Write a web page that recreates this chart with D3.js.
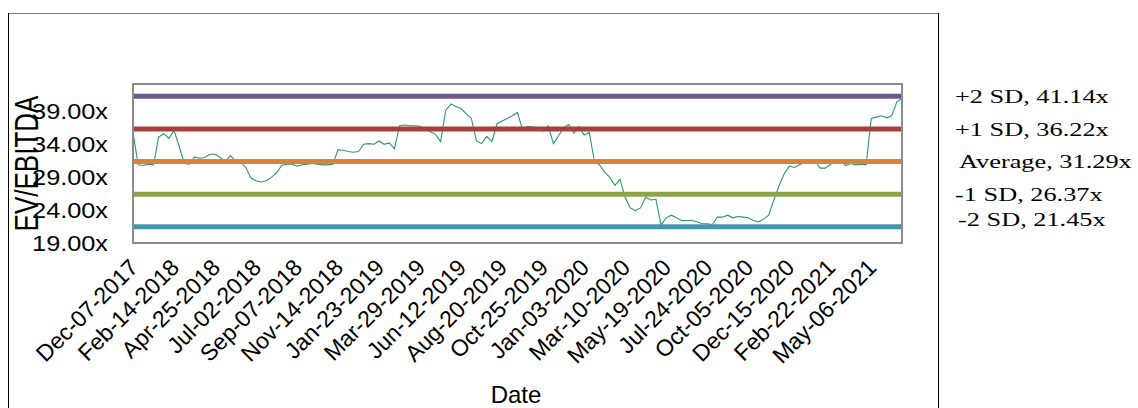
<!DOCTYPE html>
<html><head><meta charset="utf-8">
<script src="https://cdn.jsdelivr.net/npm/d3@7"></script>
<style>body{margin:0;background:#fff}svg{display:block}</style>
</head><body>
<svg id="c" width="1138" height="408"></svg>
<script>
// ---------- data ----------
const totalCategories = 901;      // trading days on the category axis
const sampleStep = 6;             // one reading every 6 categories
const labelStep = 48;             // a date label every 48 categories
const dateLabels = ["Dec-07-2017","Feb-14-2018","Apr-25-2018","Jul-02-2018","Sep-07-2018","Nov-14-2018",
  "Jan-23-2019","Mar-29-2019","Jun-12-2019","Aug-20-2019","Oct-25-2019","Jan-03-2020","Mar-10-2020",
  "May-19-2020","Jul-24-2020","Oct-05-2020","Dec-15-2020","Feb-22-2021","May-06-2021"];
const evEbitda = [
  35.7,30.8,30.7,30.9,30.8,35.0,35.5,34.8,36.0,33.6,31.0,30.9,32.0,31.8,31.9,32.4,32.4,31.9,31.3,32.2,
  31.4,31.2,30.4,28.8,28.4,28.2,28.4,28.9,29.6,30.7,30.9,30.9,30.6,30.8,30.9,31.0,30.9,30.8,30.8,30.9,
  33.1,33.0,32.8,32.7,32.8,33.9,34.0,33.9,34.4,33.9,34.1,33.2,36.7,36.8,36.7,36.7,36.6,36.2,35.8,35.4,
  34.3,39.0,40.0,39.6,39.3,38.5,37.8,34.4,34.0,35.1,34.3,37.0,37.4,37.8,38.2,38.7,36.0,36.6,36.5,36.3,
  35.9,36.7,34.0,35.2,36.4,36.9,35.6,36.6,35.3,35.7,31.3,30.8,29.7,28.9,27.7,28.6,25.9,24.3,23.9,24.3,
  25.9,25.5,25.6,21.7,22.8,23.2,22.8,22.4,22.4,22.4,22.2,21.9,21.9,21.8,22.9,22.9,23.2,22.8,23.0,22.9,
  22.8,22.4,22.2,22.6,23.2,25.5,27.6,29.4,30.6,30.4,30.8,31.2,31.5,31.5,30.3,30.3,30.8,31.6,31.5,30.7,
  31.0,30.8,30.9,30.8,37.8,38.0,38.2,37.9,38.2,40.3,40.8];
const bandNames  = ["+2 SD","+1 SD","Average","-1 SD","-2 SD"];
const bandValues = [41.14,36.22,31.29,26.37,21.45];
const yTicks = [19,24,29,34,39];
const yDomain = [19,43];

// ---------- style ----------
const bandColors = ["#6d5a8f","#a6403f","#dd8139","#8aa54a","#4196ad"];
const lineColor = "#2e9a66";
const plot = {l:133, r:902, t:84, b:243};
const sans = "Liberation Sans, Arial, sans-serif";
const serif = "Liberation Serif, Times New Roman, serif";

const svg = d3.select("#c");
const x = d3.scaleLinear().domain([0,totalCategories-1]).range([plot.l,plot.r]);
const y = d3.scaleLinear().domain(yDomain).range([plot.b,plot.t]);

// outer frame
svg.append("rect").attr("x",8.5).attr("y",13.5).attr("width",930).attr("height",420)
  .attr("fill","none").attr("stroke","#808080").attr("stroke-width",1);
svg.append("line").attr("x1",8.5).attr("x2",8.5).attr("y1",13).attr("y2",408).attr("stroke","#000");
svg.append("line").attr("x1",938.5).attr("x2",938.5).attr("y1",13).attr("y2",408).attr("stroke","#000");

// data line
const pts = evEbitda.map((v,i)=>[i*sampleStep, v]);
svg.append("path").datum(pts)
  .attr("fill","none").attr("stroke",lineColor).attr("stroke-width",1.1)
  .attr("d", d3.line().x(d=>x(d[0])).y(d=>y(d[1])));

// SD bands
svg.selectAll("line.band").data(bandValues).join("line").attr("class","band")
  .attr("x1",plot.l).attr("x2",plot.r)
  .attr("y1",d=>y(d)).attr("y2",d=>y(d))
  .attr("stroke",(d,i)=>bandColors[i]).attr("stroke-width",5);

// plot border
svg.append("rect").attr("x",plot.l).attr("y",plot.t)
  .attr("width",plot.r-plot.l).attr("height",plot.b-plot.t)
  .attr("fill","none").attr("stroke","#8c8c8c").attr("stroke-width",2);

// y axis
const yAxis = svg.append("g").attr("transform",`translate(${plot.l-25},0)`)
  .call(d3.axisLeft(y).tickValues(yTicks).tickSize(0).tickPadding(0).tickFormat(d=>d.toFixed(2)+"x"));
yAxis.select(".domain").remove();
yAxis.selectAll("text").attr("font-family",sans)
  .attr("font-size",22).attr("fill","#000").attr("x",0).attr("dy","0.36em")
  .attr("transform","scale(1.15,1)");

// x axis
const tickIdx = dateLabels.map((d,i)=>i*labelStep);
const xAxis = svg.append("g").attr("transform",`translate(0,${plot.b})`)
  .call(d3.axisBottom(x).tickValues(tickIdx).tickSize(0).tickFormat((d,i)=>dateLabels[i]));
xAxis.select(".domain").remove();
xAxis.selectAll("text").attr("font-family",sans)
  .attr("font-size",23).attr("fill","#000")
  .attr("text-anchor","end").attr("dy",null).attr("y",0)
  .attr("transform","translate(6,26) rotate(-45)");

// axis titles
svg.append("text").attr("x",516).attr("y",403).attr("text-anchor","middle")
  .attr("font-family",sans).attr("font-size",24).text("Date");
svg.append("text").attr("transform",`translate(38,${(plot.t+plot.b)/2}) scale(1.3,1) rotate(-90)`)
  .attr("text-anchor","middle").attr("font-family",sans)
  .attr("font-size",26).text("EV/EBITDA");

// band labels (legend at right)
const labelY = bandValues.map(v=>y(v));
labelY[4] = labelY[3] + 25;
svg.selectAll("text.blab").data(bandValues).join("text").attr("class","blab")
  .attr("transform",(d,i)=>`translate(${i===2 ? 959 : (i===4 ? 958 : 955)},${labelY[i]}) scale(1.35,1)`)
  .attr("dy","0.35em")
  .attr("font-family",serif).attr("font-size",19.5)
  .text((d,i)=>`${bandNames[i]}, ${d.toFixed(2)}x`);
</script>
</body></html>
